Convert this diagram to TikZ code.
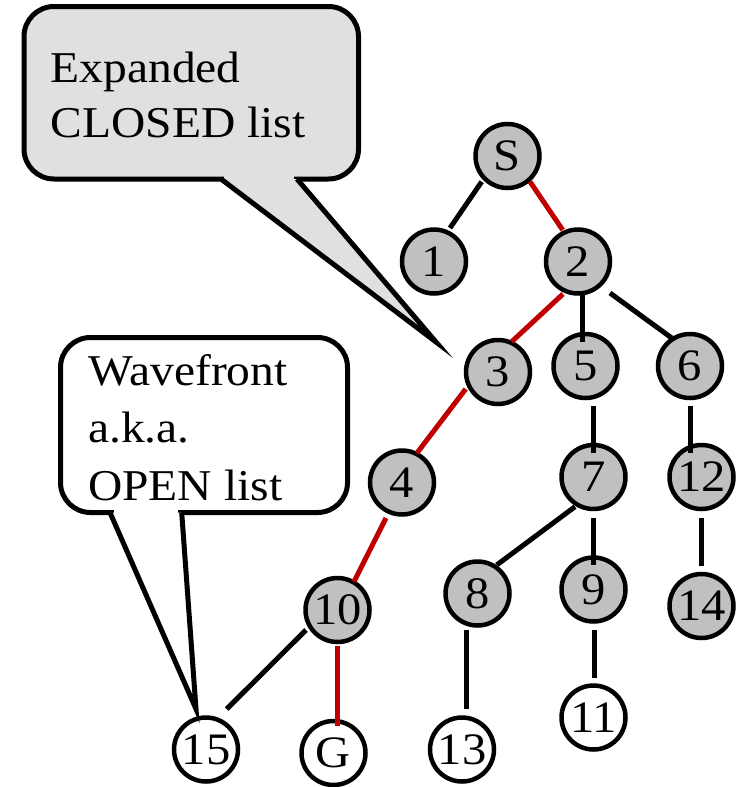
\documentclass[tikz,border=0pt]{standalone}
\usepackage{fontspec}
\setmainfont[FakeStretch=1.08]{Liberation Serif}
\definecolor{nodegray}{HTML}{C0C0C0}
\definecolor{notegray}{HTML}{E0E0E0}
\definecolor{pathred}{HTML}{C00000}
\begin{document}
\begin{tikzpicture}[x=1pt,y=-1pt,
  vertex/.style={circle, draw, line width=4.5pt, minimum size=64pt, inner sep=0pt,
    font=\fontsize{45}{45}\selectfont},
  closednode/.style={vertex, fill=nodegray},
  opennode/.style={vertex, fill=white},
  edge/.style={line width=5pt},
  pathedge/.style={edge, draw=pathred},
  note/.style={line width=5pt, rounded corners=30pt},
  tail/.style={line width=5pt},
  notetext/.style={anchor=base west, inner sep=0pt, font=\fontsize{44}{44}\selectfont}]
\useasboundingbox (0,0) rectangle (745,787);

% search tree
\node[closednode] (S)   at (507.5,156)   {S};
\node[closednode] (n1)  at (434,261.5)   {1};
\node[closednode] (n2)  at (578,261.5)   {2};
\node[closednode] (n3)  at (498,372)     {3};
\node[closednode] (n5)  at (585.5,366)   {5};
\node[closednode] (n6)  at (690,366)     {6};
\node[closednode] (n4)  at (402,482.5)   {4};
\node[closednode] (n7)  at (593.5,477)   {7};
\node[closednode] (n12) at (701.5,477)   {12};
\node[closednode] (n10) at (337.5,610)   {10};
\node[closednode] (n8)  at (477.5,593.5) {8};
\node[closednode] (n9)  at (593.5,589.5) {9};
\node[closednode] (n14) at (701.5,606)   {14};
\node[opennode]   (n15) at (206,749.5)   {15};
\node[opennode]   (G)   at (333.5,753)   {G};
\node[opennode]   (n13) at (462,749.5)   {13};
\node[opennode]   (n11) at (593.5,717.5) {11};

% tree edges
\draw[edge]     ([shift={(-25.8,25.7)}]S.center)  -- ([shift={(16,-33.5)}]n1.center);
\draw[pathedge] ([shift={(22.5,25.7)}]S.center)   -- ([shift={(-15.3,-31.5)}]n2.center);
\draw[pathedge] ([shift={(-15,32.5)}]n2.center)   -- ([shift={(13.7,-30.3)}]n3.center);
\draw[edge]     ([shift={(4.7,31.5)}]n2.center)   -- ([shift={(-2.8,-24.3)}]n5.center);
\draw[edge]     ([shift={(32,31.5)}]n2.center)    -- ([shift={(-18.3,-28)}]n6.center);
\draw[pathedge] ([shift={(-32.3,17)}]n3.center)   -- ([shift={(15,-29.5)}]n4.center);
\draw[edge]     ([shift={(7.8,40)}]n5.center)     -- ([shift={(-0.2,-24.3)}]n7.center);
\draw[edge]     ([shift={(0,40)}]n6.center)       -- ([shift={(-11.5,-24.3)}]n12.center);
\draw[pathedge] ([shift={(-16,35.5)}]n4.center)   -- ([shift={(16.5,-28.3)}]n10.center);
\draw[edge]     ([shift={(-18.5,29.7)}]n7.center) -- ([shift={(19.2,-28.5)}]n8.center);
\draw[edge]     ([shift={(0,41)}]n7.center)       -- ([shift={(0,-24.5)}]n9.center);
\draw[edge]     ([shift={(0.2,41)}]n12.center)    -- ([shift={(0.2,-40)}]n14.center);
\draw[edge]     ([shift={(-31.5,20)}]n10.center)  -- ([shift={(20.7,-40.5)}]n15.center);
\draw[pathedge] ([shift={(0.2,36)}]n10.center)    -- ([shift={(4.2,-27)}]G.center);
\draw[edge]     ([shift={(-11.5,36.5)}]n8.center) -- ([shift={(4,-40.5)}]n13.center);
\draw[edge]     ([shift={(0.5,40.5)}]n9.center)   -- ([shift={(0.5,-39.8)}]n11.center);

% callout: expanded nodes
\filldraw[note, fill=notegray] (24,6.5) rectangle (358.5,179);
\fill[notegray] (224,175.5) rectangle (294,180);
\filldraw[tail, fill=notegray] (221,179) -- (436,342) -- (297,179);
\node[notetext] (closedA) at (50.5,82.3) {Expanded};
\node[notetext] (closedB) at (50.5,137)  {CLOSED list};

% callout: wavefront
\filldraw[note, fill=white] (60.5,337.5) rectangle (347.5,512.5);
\fill[white] (114,509) rectangle (178,513);
\filldraw[tail, fill=white] (110,512.5) -- (196,709) -- (181.7,512.5);
\node[notetext] (openA) at (88,385)   {Wavefront};
\node[notetext] (openB) at (88,442.5) {a.k.a.};
\node[notetext] (openC) at (88,500)   {OPEN list};
\end{tikzpicture}
\end{document}
